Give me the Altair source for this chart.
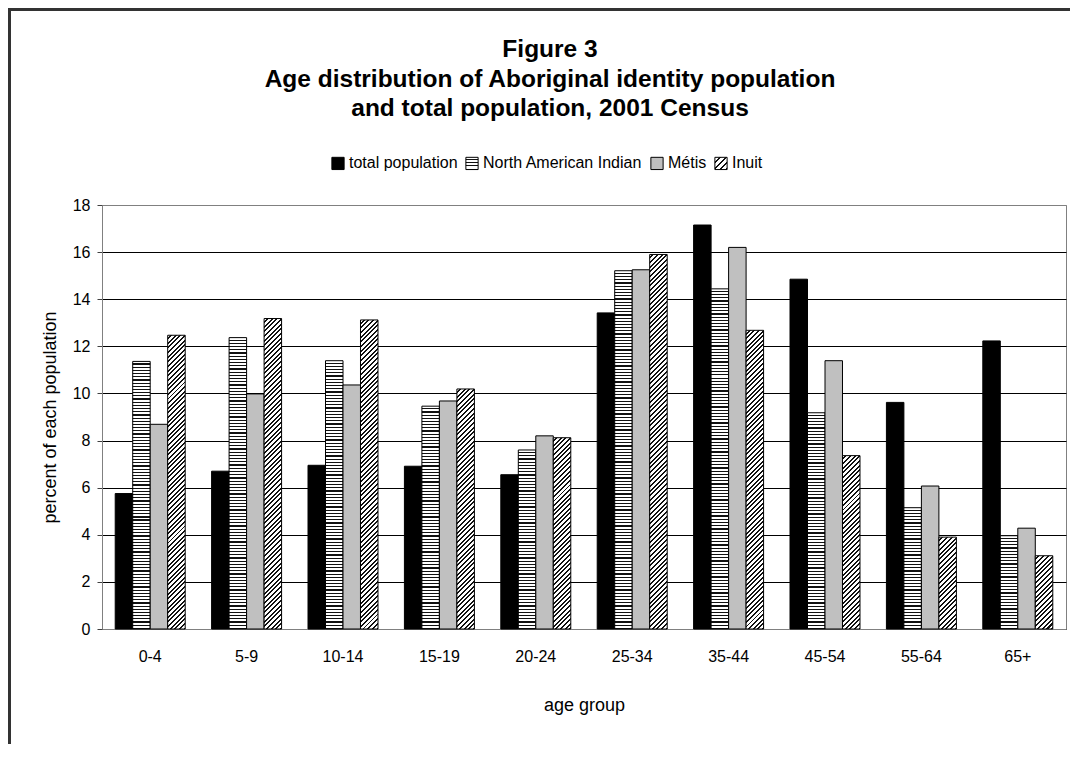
import json
import altair as alt
import pandas as pd

# ---------------- data ----------------
ages = ["0-4", "5-9", "10-14", "15-19", "20-24", "25-34", "35-44", "45-54", "55-64", "65+"]
series_names = ["total population", "North American Indian", "Métis", "Inuit"]
total_population = [5.75, 6.70, 6.95, 6.91, 6.55, 13.42, 17.15, 14.85, 9.62, 12.23]
north_american_indian = [11.36, 12.37, 11.39, 9.46, 7.60, 15.21, 14.44, 9.18, 5.15, 3.96]
metis = [8.69, 9.98, 10.36, 9.68, 8.20, 15.25, 16.20, 11.39, 6.07, 4.28]
inuit = [12.47, 13.18, 13.12, 10.19, 8.12, 15.90, 12.68, 7.36, 3.90, 3.11]
y_ticks = [0, 2, 4, 6, 8, 10, 12, 14, 16, 18]

title_lines = ["Figure 3",
               "Age distribution of Aboriginal identity population",
               "and total population, 2001 Census"]

# ---------------- layout / style ----------------
W, H = 964, 424
PAD = {"left": 94, "top": 197, "right": 4, "bottom": 115}
Y_MAX = 18
PAD_INNER = 0.274
FONT = "Liberation Sans"

step = W / len(ages)
bar_w = step * (1 - PAD_INNER) / len(series_names)
px_per_unit = H / Y_MAX


def stripe_stops(n, frac, color):
    stops = []
    for k in range(n):
        a = k / n
        b = (k + frac) / n
        c = (k + 1) / n
        stops += [{"offset": round(a, 5), "color": "white"},
                  {"offset": round(b, 5), "color": "white"},
                  {"offset": round(b, 5), "color": color},
                  {"offset": round(c, 5), "color": color}]
    return stops


def h_stripes(h, period=3.2, line=1.2, color="#111111"):
    n = max(1, int(round(h / period)))
    return {"gradient": "linear", "x1": 0, "y1": 0, "x2": 0, "y2": 1,
            "stops": stripe_stops(n, (period - line) / period, color)}


def diag_stripes(w, h, period=3.3, line=1.4, color="#111111"):
    beta = (w + h) / (w * w + h * h)
    span = (w + h) / 2 ** 0.5
    n = max(1, int(round(span / period)))
    return {"gradient": "linear", "x1": 0, "y1": 0,
            "x2": round(beta * w, 6), "y2": round(beta * h, 6),
            "stops": stripe_stops(n, (period - line) / period, color)}


series_values = [total_population, north_american_indian, metis, inuit]
records = []
for s_i, (name, vals) in enumerate(zip(series_names, series_values)):
    for age, v in zip(ages, vals):
        h = v * px_per_unit
        if s_i == 0:
            fill = "black"
        elif s_i == 1:
            fill = h_stripes(h)
        elif s_i == 2:
            fill = "#c0c0c0"
        else:
            fill = diag_stripes(bar_w, h)
        records.append({"age": age, "series": name, "value": v, "grad": fill})

# legend swatch fills (small squares)
sym = 12
legend_range = [
    "black",
    {"expr": json.dumps(h_stripes(sym, period=3.0, line=1.0))},
    "#c0c0c0",
    {"expr": json.dumps(diag_stripes(sym, sym, period=4.0, line=1.4))},
]

bars = alt.Chart(alt.Data(values=records)).mark_bar(
    stroke="black", strokeWidth=1
).encode(
    x=alt.X("age:N", sort=ages,
            scale=alt.Scale(paddingInner=PAD_INNER, paddingOuter=PAD_INNER / 2),
            axis=alt.Axis(title="age group", labelAngle=0, ticks=False,
                          labelPadding=19, titlePadding=32,
                          labelFontSize=16, titleFontSize=18,
                          titleFontWeight="normal", labelColor="black",
                          titleColor="black", domainColor="#808080",
                          labelFont=FONT, titleFont=FONT)),
    xOffset=alt.XOffset("series:N", sort=series_names,
                        scale=alt.Scale(paddingInner=0, paddingOuter=0)),
    y=alt.Y("value:Q", stack=None,
            scale=alt.Scale(domain=[0, Y_MAX], nice=False),
            axis=alt.Axis(title="percent of each population", values=y_ticks,
                          labelFontSize=16, titleFontSize=18,
                          titleFontWeight="normal", labelColor="black",
                          titleColor="black", labelPadding=7, tickSize=5,
                          tickColor="#404040", domainColor="#808080",
                          gridColor={"condition": {"test": "datum.value === 18", "value": "#808080"},
                                     "value": "black"},
                          gridWidth=1, titlePadding=13,
                          labelFont=FONT, titleFont=FONT)),
    fill=alt.Fill("grad:N", scale=None, legend=None),
)

legend_layer = alt.Chart(pd.DataFrame({"series": series_names})).mark_point(
    shape="square", filled=True, opacity=0, stroke="black"
).encode(
    color=alt.Color("series:N", sort=series_names,
                    scale=alt.Scale(domain=series_names, range=legend_range),
                    legend=alt.Legend(orient="none", legendX=228, legendY=-50,
                                      direction="horizontal", title=None,
                                      labelFontSize=16, labelFont=FONT,
                                      labelColor="black", symbolType="square",
                                      symbolSize=150, symbolStrokeColor="black",
                                      symbolStrokeWidth=1, symbolOpacity=1,
                                      labelOffset=3, columnPadding=5,
                                      labelLimit=400))
)

frame_df = pd.DataFrame({"f": [0]})
frame_top = alt.Chart(frame_df).mark_rule(color="#333333", strokeWidth=3).encode(
    x=alt.value(-PAD["left"]), x2=alt.value(W + PAD["right"]),
    y=alt.value(-PAD["top"] + 1.5)
)
frame_left = alt.Chart(frame_df).mark_rule(color="#333333", strokeWidth=3).encode(
    x=alt.value(-PAD["left"] + 1.5),
    y=alt.value(-PAD["top"]), y2=alt.value(H + PAD["bottom"])
)

chart = alt.layer(bars, legend_layer, frame_top, frame_left).properties(
    width=W, height=H,
    padding=PAD,
    autosize=alt.AutoSizeParams(type="none"),
    title=alt.TitleParams(text=title_lines, font=FONT, fontSize=24.5,
                          fontWeight="bold", color="black", anchor="middle",
                          frame="group", dx=-34, offset=0, dy=115,
                          lineHeight=29.5),
).configure(font=FONT).configure_view(stroke="#808080", strokeWidth=1)

chart.save("out.html", embed_options={"renderer": "svg", "actions": False})
